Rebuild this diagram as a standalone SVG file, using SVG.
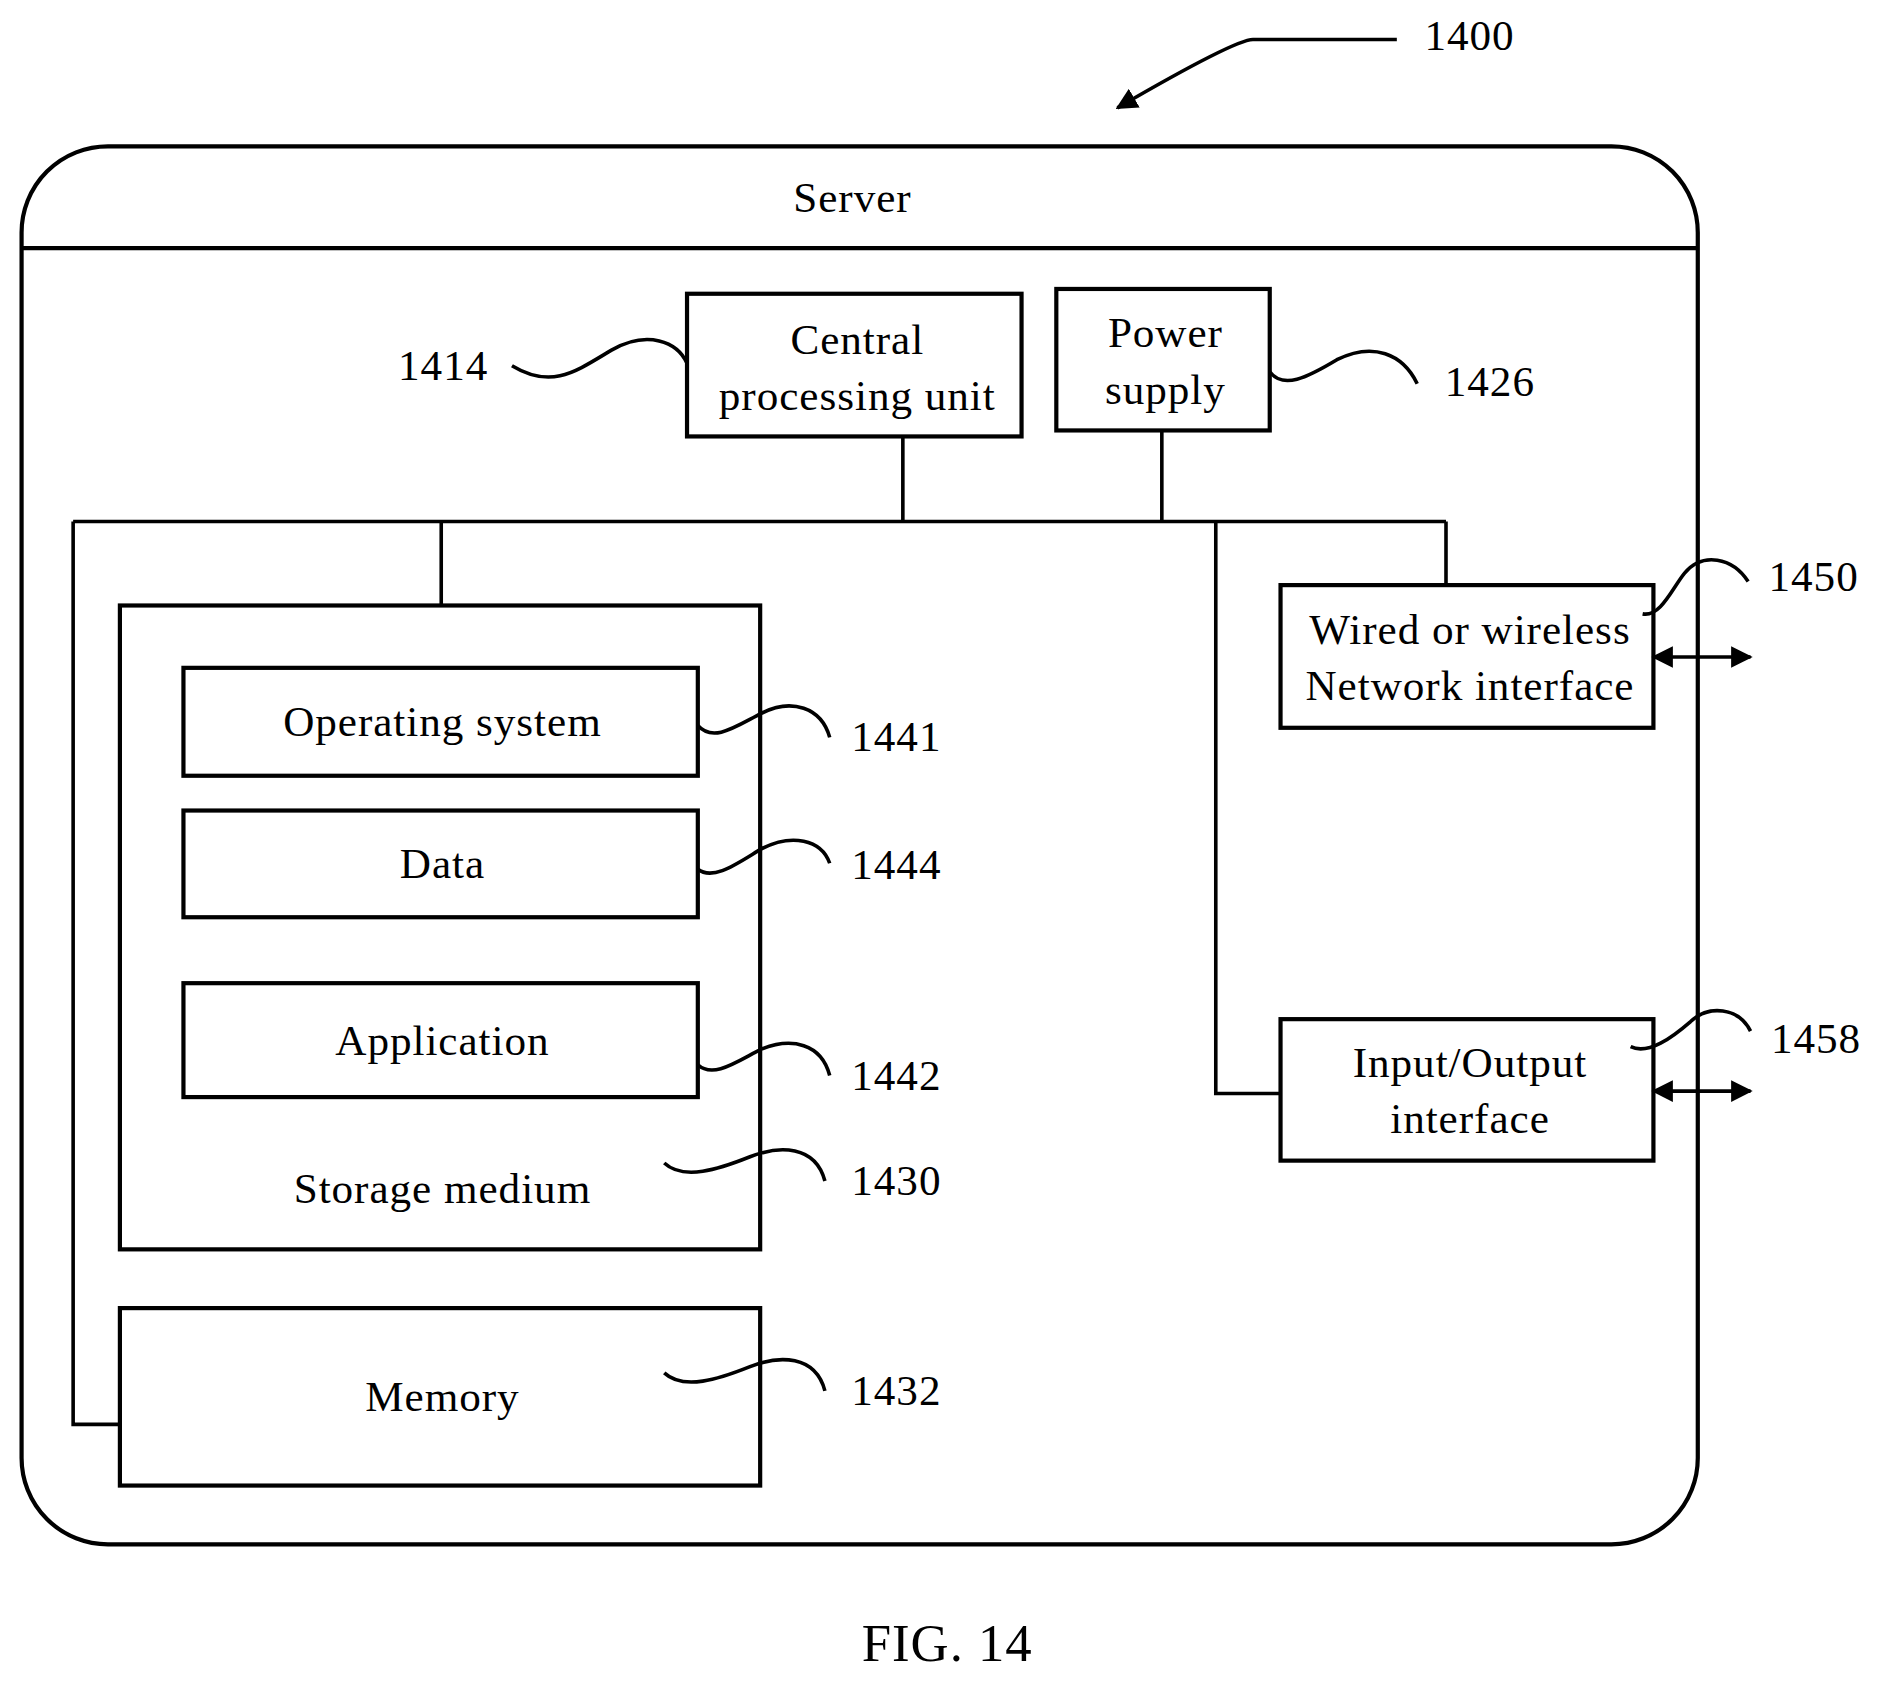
<svg xmlns="http://www.w3.org/2000/svg" width="1880" height="1682" viewBox="0 0 1880 1682">
<style>
.b{fill:none;stroke:#000;stroke-width:3.5}
.l{fill:none;stroke:#000;stroke-width:3}
text{font-family:"Liberation Serif",serif;font-size:36px;fill:#000;letter-spacing:0.8px}
.c{text-anchor:middle}
</style>
<defs>
<marker id="a" viewBox="0 0 10 10" refX="9" refY="5" markerWidth="6" markerHeight="6" orient="auto-start-reverse"><path d="M0,0L10,5L0,10z"/></marker>
</defs>
<rect width="1880" height="1682" fill="#fff"/>
<g transform="scale(1.199)">
<g id="server"><rect class="b" x="18" y="122" width="1398" height="1166" rx="72"/><line class="b" x1="18" y1="207" x2="1416" y2="207"/><text class="c" x="711" y="177">Server</text></g>
<g id="ref1400"><text x="1188" y="42">1400</text></g>
<g id="cpu"><rect class="b" x="573" y="245" width="279" height="119"/><text class="c" x="715" y="295">Central</text><text class="c" x="715" y="342">processing unit</text><text x="332" y="317">1414</text></g>
<g id="power"><rect class="b" x="881" y="241" width="178" height="118"/><text class="c" x="972" y="289">Power</text><text class="c" x="972" y="337">supply</text><text x="1205" y="330">1426</text></g>
<g id="storage"><rect class="b" x="100" y="505" width="534" height="537"/><text class="c" x="369" y="1003">Storage medium</text><text x="710" y="997">1430</text></g>
<g id="os"><rect class="b" x="153" y="557" width="429" height="90"/><text class="c" x="369" y="614">Operating system</text><text x="710" y="626">1441</text></g>
<g id="data"><rect class="b" x="153" y="676" width="429" height="89"/><text class="c" x="369" y="732">Data</text><text x="710" y="733">1444</text></g>
<g id="app"><rect class="b" x="153" y="820" width="429" height="95"/><text class="c" x="369" y="880">Application</text><text x="710" y="909">1442</text></g>
<g id="memory"><rect class="b" x="100" y="1091" width="534" height="148"/><text class="c" x="369" y="1177">Memory</text><text x="710" y="1172">1432</text></g>
<g id="net"><rect class="b" x="1068" y="488" width="311" height="119"/><text class="c" x="1226" y="537">Wired or wireless</text><text class="c" x="1226" y="584">Network interface</text><text x="1475" y="493">1450</text></g>
<g id="io"><rect class="b" x="1068" y="850" width="311" height="118"/><text class="c" x="1226" y="898">Input/Output</text><text class="c" x="1226" y="945">interface</text><text x="1477" y="878">1458</text></g>
<g id="caption"><text class="c" x="790" y="1385" style="font-size:44px">FIG. 14</text></g>
<g id="connectors">
<path class="l" d="M1165,33H1045Q1030,33 932,90" marker-end="url(#a)"/>
<path class="l" d="M61,435H1206M753,364V435M969,359V435M368,435V505M1206,435V488M1014,435V912H1068M61,435V1188H100"/>
<line class="l" x1="1379" y1="548" x2="1460" y2="548" marker-start="url(#a)" marker-end="url(#a)"/>
<line class="l" x1="1379" y1="910" x2="1460" y2="910" marker-start="url(#a)" marker-end="url(#a)"/>
<path class="l" d="M427,305C460,325 480,310 510,292C540,275 565,285 573,303"/>
<path class="l" d="M1059,310C1070,325 1090,315 1115,300C1145,285 1170,295 1182,320"/>
<path class="l" d="M582,605C595,620 615,605 635,595C660,582 685,590 692,615"/>
<path class="l" d="M582,725C595,735 615,720 635,708C660,695 685,700 692,720"/>
<path class="l" d="M582,888C595,900 615,885 635,875C660,865 685,870 692,897"/>
<path class="l" d="M554,970C570,985 600,975 625,965C650,955 680,955 688,985"/>
<path class="l" d="M554,1145C570,1160 600,1150 625,1140C650,1130 680,1130 688,1160"/>
<path class="l" d="M1370,512C1385,515 1395,490 1405,478C1420,460 1445,465 1458,485"/>
<path class="l" d="M1360,873C1375,880 1395,865 1410,852C1425,838 1450,840 1460,860"/>
</g>
</g>
</svg>
